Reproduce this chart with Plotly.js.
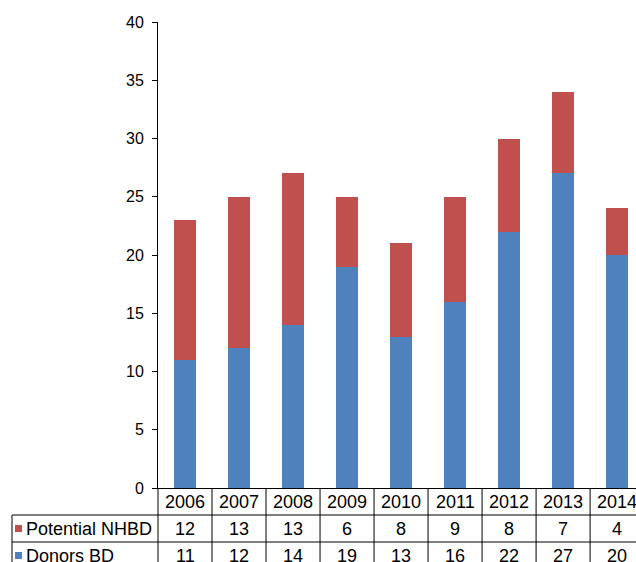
<!DOCTYPE html>
<html>
<head>
<meta charset="utf-8">
<script src="https://cdn.plot.ly/plotly-3.0.1.min.js"></script>
<style>html,body{margin:0;padding:0;background:#fff;overflow:hidden;}#chart{width:636px;height:562px;}</style>
</head>
<body>
<div id="chart"></div>
<script>
// ---- data ----
var years = ["2006","2007","2008","2009","2010","2011","2012","2013","2014"];
var donorsBD = [11, 12, 14, 19, 13, 16, 22, 27, 20];
var potentialNHBD = [12, 13, 13, 6, 8, 9, 8, 7, 4];
var seriesNames = ["Potential NHBD", "Donors BD"];
var yTicks = [0, 5, 10, 15, 20, 25, 30, 35, 40];

// ---- layout constants ----
var W = 636, H = 562;
var mL = 158, mR = 0, mT = 22, mB = 74;
var xRange = [-0.5, 8.35];
var plotW = W - mL - mR, plotH = H - mT - mB;
var bottomPx = H - mB;
var RED = "#C0504D", BLUE = "#4F81BD";
var FONT = "Liberation Sans, Arial, Helvetica, sans-serif";

function px2paperX(px){ return (px - mL) / plotW; }
function px2paperY(py){ return (bottomPx - py) / plotH; }
function cat2paperX(c){ return (c - xRange[0]) / (xRange[1] - xRange[0]); }

var row1 = 515, row2 = 542, tableBottom = 575, leftEdge = 12;

var traces = [
  {type: "bar", x: years, y: donorsBD, name: seriesNames[1], marker: {color: BLUE}, width: 0.41, hoverinfo: "skip"},
  {type: "bar", x: years, y: potentialNHBD, name: seriesNames[0], marker: {color: RED}, width: 0.41, hoverinfo: "skip"}
];

var lineStyle = {color: "#000", width: 1};
var shapes = [];
for (var k = 0; k <= years.length; k++) {
  shapes.push({type: "line", xref: "paper", yref: "paper",
    x0: cat2paperX(k - 0.5), x1: cat2paperX(k - 0.5), y0: 0, y1: px2paperY(tableBottom), line: lineStyle});
}
[row1, row2].forEach(function(r){
  shapes.push({type: "line", xref: "paper", yref: "paper",
    x0: px2paperX(leftEdge), x1: 1.01, y0: px2paperY(r), y1: px2paperY(r), line: lineStyle});
});
shapes.push({type: "line", xref: "paper", yref: "paper",
  x0: px2paperX(leftEdge), x1: px2paperX(leftEdge), y0: px2paperY(row1), y1: px2paperY(tableBottom), line: lineStyle});
var keyColors = [RED, BLUE];
[row1, row2].forEach(function(r, i){
  var cy = r + 13.5;
  shapes.push({type: "rect", xref: "paper", yref: "paper",
    x0: px2paperX(15), x1: px2paperX(22), y0: px2paperY(cy + 3.5), y1: px2paperY(cy - 3.5),
    fillcolor: keyColors[i], line: {width: 0}});
});

var annotations = [];
var tFont = {family: FONT, size: 18, color: "#000"};
years.forEach(function(yr, i){
  var xp = cat2paperX(i);
  annotations.push({xref: "paper", yref: "paper", x: xp, y: px2paperY(501.5), text: yr, showarrow: false, font: tFont, xanchor: "center", yanchor: "middle"});
  annotations.push({xref: "paper", yref: "paper", x: xp, y: px2paperY(row1 + 13.5), text: String(potentialNHBD[i]), showarrow: false, font: tFont, xanchor: "center", yanchor: "middle"});
  annotations.push({xref: "paper", yref: "paper", x: xp, y: px2paperY(row2 + 13.5), text: String(donorsBD[i]), showarrow: false, font: tFont, xanchor: "center", yanchor: "middle"});
});
seriesNames.forEach(function(n, i){
  var r = i === 0 ? row1 : row2;
  annotations.push({xref: "paper", yref: "paper", x: px2paperX(24), y: px2paperY(r + 13.5), text: n, showarrow: false, font: tFont, xanchor: "left", yanchor: "middle"});
});

var layout = {
  width: W, height: H,
  margin: {l: mL, r: mR, t: mT, b: mB, pad: 0},
  paper_bgcolor: "#fff", plot_bgcolor: "#fff",
  barmode: "stack",
  showlegend: false,
  xaxis: {type: "category", range: xRange, showticklabels: false, ticks: "", showgrid: false, zeroline: false,
    showline: true, linecolor: "#000", linewidth: 1, fixedrange: true},
  yaxis: {range: [0, 40], tickvals: yTicks, ticktext: yTicks.map(String), ticks: "outside", ticklen: 5, tickcolor: "#000",
    ticklabelstandoff: 5,
    showgrid: false, zeroline: false, showline: true, linecolor: "#000", linewidth: 1,
    tickfont: {family: FONT, size: 16, color: "#000"}, fixedrange: true},
  shapes: shapes,
  annotations: annotations
};

Plotly.newPlot("chart", traces, layout, {displayModeBar: false, staticPlot: true});
</script>
</body>
</html>
